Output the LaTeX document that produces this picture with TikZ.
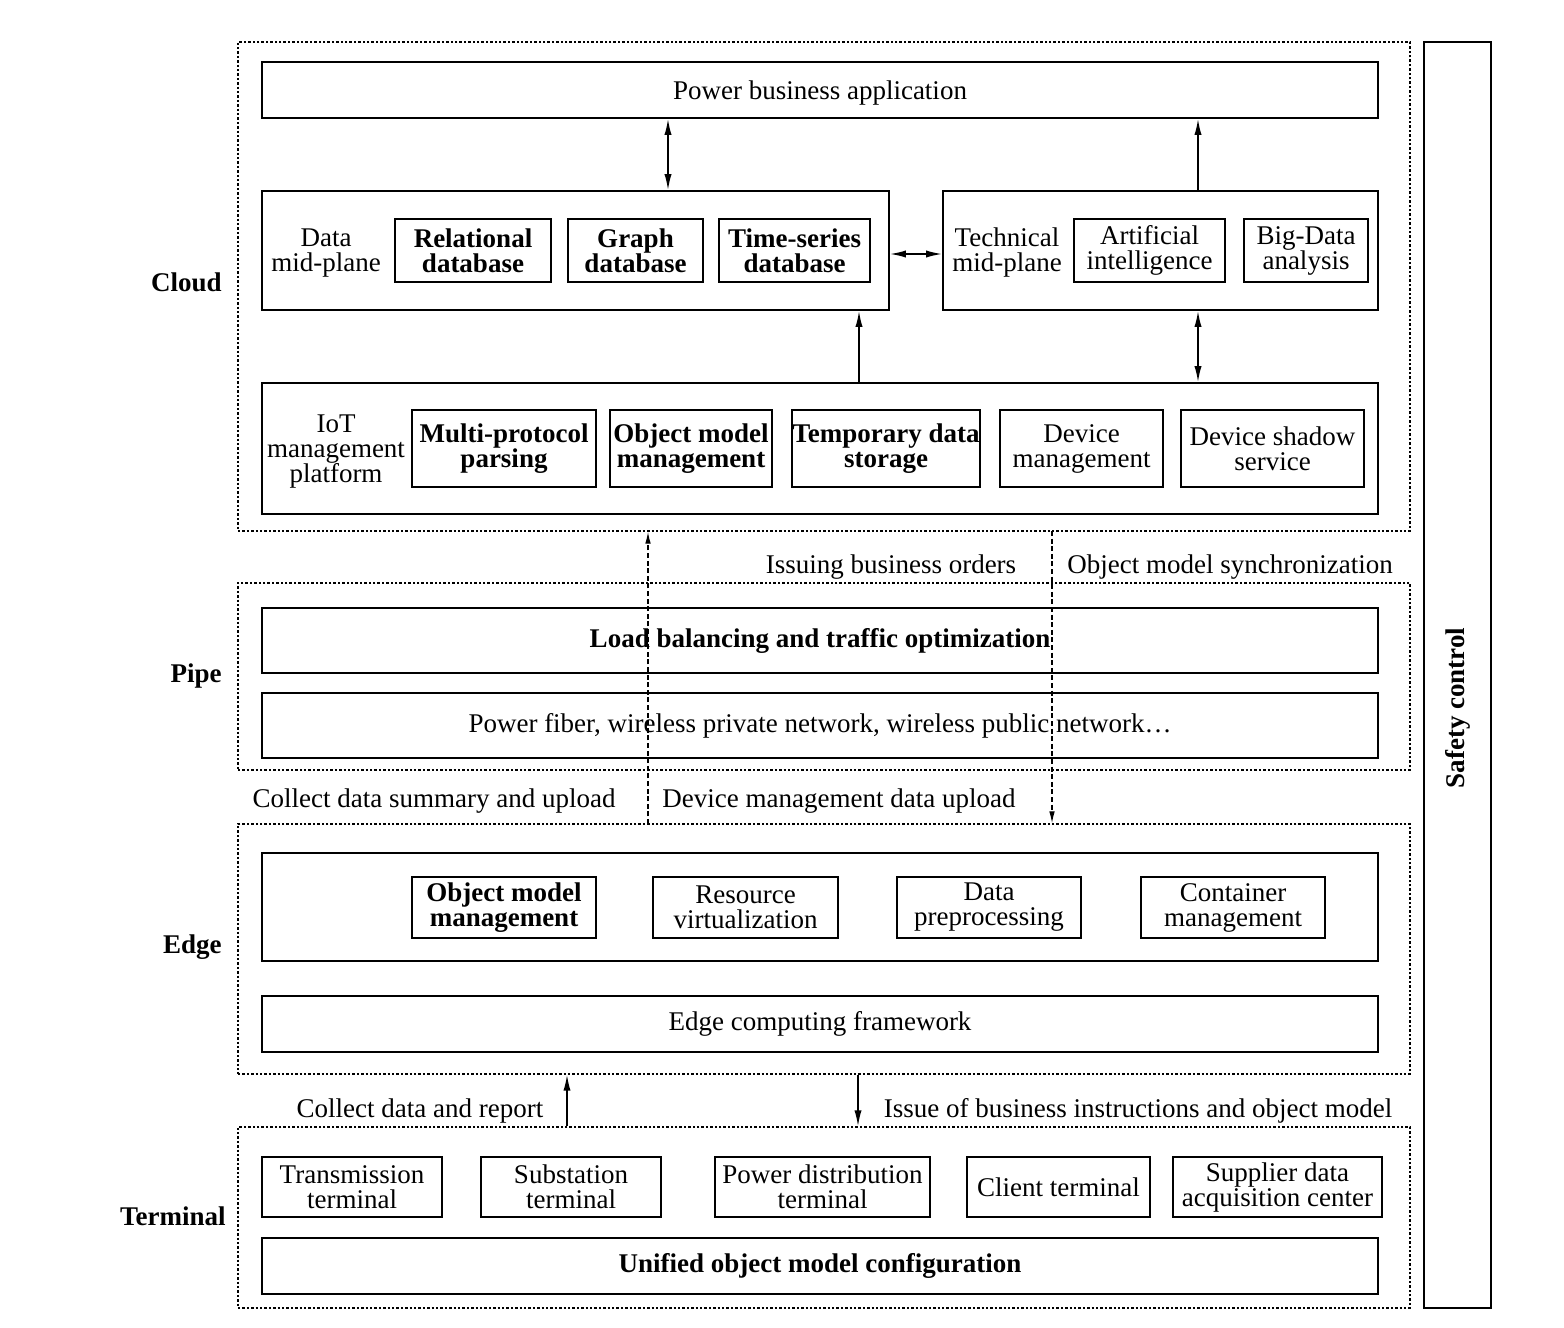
\documentclass[tikz,border=0pt]{standalone}
\usepackage{fontspec}
\setmainfont{Liberation Serif}
\usetikzlibrary{arrows.meta}
\newcommand\mybox[7][]{\node[box,#1,minimum width={(#5-#3)*0.5pt},minimum height={(#6-#4)*0.5pt}] (#2) at ({(#3+#5)/2},{(#4+#6)/2}) {#7};}
\begin{document}
\begin{tikzpicture}[x=0.5pt,y=-0.5pt,
 every node/.style={font=\fontsize{13.5}{12.5}\selectfont},
 box/.style={draw,line width=0.9pt,inner sep=0pt,align=center},
 bold/.style={font=\fontsize{13.5}{12.5}\selectfont\bfseries},
 layer/.style={line width=0.7pt,dash pattern=on 1.2pt off 1pt},
 lbl/.style={inner sep=0pt,align=center,yshift=-1.5pt},
 layername/.style={inner sep=0pt,anchor=east,font=\fontsize{13.5}{12.5}\selectfont\bfseries},
 arr/.style={line width=0.8pt,-{Latex[length=8pt,width=3.6pt]}},
 darr/.style={line width=0.8pt,{Latex[length=8pt,width=3.6pt]}-{Latex[length=8pt,width=3.6pt]}},
 dasharr/.style={line width=0.6pt,dash pattern=on 2.5pt off 1.3pt,-{Latex[length=6pt,width=2.8pt]}}]
\useasboundingbox (0,0) rectangle (1564,1328);
% layers
\mybox[layer]{cloud}{238}{42}{1410}{531}{}
\mybox[layer]{pipe}{238}{583}{1410}{770}{}
\mybox[layer]{edge}{238}{824}{1410}{1074}{}
\mybox[layer]{term}{238}{1127}{1410}{1308}{}
\mybox{safety}{1424}{42}{1491}{1308}{}
\node[bold,rotate=90,inner sep=0pt] (safetytxt) at (1458,708) {Safety control};
\node[layername] (lcloud) at (222,282) {Cloud};
\node[layername] (lpipe) at (222,676) {Pipe};
\node[layername] (ledge) at (222,947) {Edge};
\node[layername] (lterm) at (226,1216) {Terminal};
% cloud
\mybox[text height=12pt,text depth=3pt]{pba}{262}{62}{1378}{118}{Power business application}
\mybox{dm}{262}{191}{889}{310}{}
\node[lbl] (dmt) at (326,250) {Data\\mid-plane};
\mybox[bold]{rdb}{395}{219}{551}{282}{Relational\\database}
\mybox[bold]{gdb}{568}{219}{703}{282}{Graph\\database}
\mybox[bold]{tdb}{719}{219}{870}{282}{Time-series\\database}
\mybox{tm}{943}{191}{1378}{310}{}
\node[lbl] (tmt) at (1007,250) {Technical\\mid-plane};
\mybox{ai}{1074}{219}{1225}{282}{Artificial\\intelligence}
\mybox{bd}{1244}{219}{1368}{282}{Big-Data\\analysis}
\mybox{iot}{262}{383}{1378}{514}{}
\node[lbl] (iott) at (336,449) {IoT\\management\\platform};
\mybox[bold]{mpp}{412}{410}{596}{487}{Multi-protocol\\parsing}
\mybox[bold]{omm}{610}{410}{772}{487}{Object model\\management}
\mybox[bold]{tds}{792}{410}{980}{487}{Temporary data\\storage}
\mybox{dmg}{1000}{410}{1163}{487}{Device\\management}
\mybox{dss}{1181}{410}{1364}{487}{Device shadow\\service}
\coordinate (xa) at (668,0);
\coordinate (xb) at (1198,0);
\coordinate (xc) at (859,0);
\draw[darr] (pba.south -| xa) -- (dm.north -| xa);
\draw[arr] (tm.north -| xb) -- (pba.south -| xb);
\draw[darr] ([yshift=-1.75pt]dm.east) -- ([yshift=-1.75pt]tm.west);
\draw[arr] (iot.north -| xc) -- (dm.south -| xc);
\draw[darr] (tm.south -| xb) -- (iot.north -| xb);
% pipe
\mybox[bold]{lb}{262}{608}{1378}{673}{Load balancing and traffic optimization}
\mybox{pf}{262}{693}{1378}{758}{Power fiber, wireless private network, wireless public network…}
\node[lbl] (ibo) at (891,564) {Issuing business orders};
\node[lbl] (oms) at (1230,564) {Object model synchronization};
\node[lbl] (cds) at (434,798) {Collect data summary and upload};
\node[lbl] (dmu) at (839,798) {Device management data upload};
\coordinate (u1) at (648,824);
\coordinate (d1) at (1052,531);
\draw[dasharr] (u1) -- (u1 |- cloud.south);
\draw[dasharr] (d1) -- (d1 |- edge.north);
% edge
\mybox{eb}{262}{853}{1378}{961}{}
\mybox[bold]{eomm}{412}{877}{596}{938}{Object model\\management}
\mybox{rv}{653}{877}{838}{938}{Resource\\virtualization}
\mybox{dp}{897}{877}{1081}{938}{Data\\preprocessing}
\mybox{cm}{1141}{877}{1325}{938}{Container\\management}
\mybox{ecf}{262}{996}{1378}{1052}{Edge computing framework}
\coordinate (xe) at (567,0);
\coordinate (xf) at (858,0);
\draw[arr] (term.north -| xe) -- (edge.south -| xe);
\draw[arr] (edge.south -| xf) -- (term.north -| xf);
\node[lbl] (cdr) at (420,1108) {Collect data and report};
\node[lbl] (ibi) at (1138,1108) {Issue of business instructions and object model};
% terminal
\mybox{tt}{262}{1157}{442}{1217}{Transmission\\terminal}
\mybox{st}{481}{1157}{661}{1217}{Substation\\terminal}
\mybox{pdt}{715}{1157}{930}{1217}{Power distribution\\terminal}
\mybox{ct}{967}{1157}{1150}{1217}{Client terminal}
\mybox{sda}{1173}{1157}{1382}{1217}{Supplier data\\acquisition center}
\mybox[bold]{uom}{262}{1238}{1378}{1294}{Unified object model configuration}
\end{tikzpicture}
\end{document}
